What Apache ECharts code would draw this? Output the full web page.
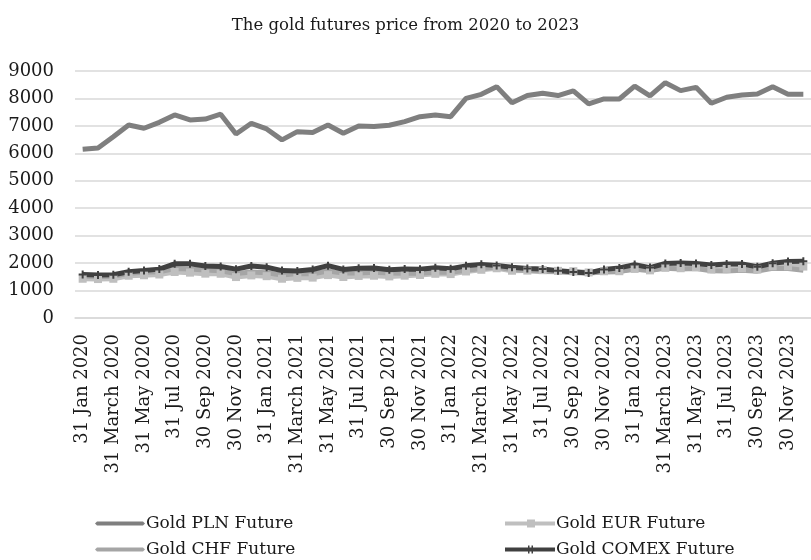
<!DOCTYPE html>
<html>
<head>
<meta charset="utf-8">
<script src="https://cdn.jsdelivr.net/npm/echarts@6/dist/echarts.min.js"></script>
<style>html,body{margin:0;padding:0;background:#fff}#c{width:811px;height:560px}</style>
</head>
<body>
<div id="c"></div>
<script>
const categories = [
  "31 Jan 2020","29 Feb 2020","31 March 2020","30 Apr 2020","31 May 2020","30 Jun 2020","31 Jul 2020","31 Aug 2020","30 Sep 2020","31 Oct 2020","30 Nov 2020","31 Dec 2020",
  "31 Jan 2021","28 Feb 2021","31 March 2021","30 Apr 2021","31 May 2021","30 Jun 2021","31 Jul 2021","31 Aug 2021","30 Sep 2021","31 Oct 2021","30 Nov 2021","31 Dec 2021",
  "31 Jan 2022","28 Feb 2022","31 March 2022","30 Apr 2022","31 May 2022","30 Jun 2022","31 Jul 2022","31 Aug 2022","30 Sep 2022","31 Oct 2022","30 Nov 2022","31 Dec 2022",
  "31 Jan 2023","28 Feb 2023","31 March 2023","30 Apr 2023","31 May 2023","30 Jun 2023","31 Jul 2023","31 Aug 2023","30 Sep 2023","31 Oct 2023","30 Nov 2023","31 Dec 2023"
];
const goldPLN = [6150,6195,6605,7030,6915,7130,7400,7215,7250,7425,6705,7095,
  6890,6490,6790,6755,7030,6730,6995,6975,7025,7155,7335,7400,
  7335,8005,8150,8430,7845,8105,8190,8105,8275,7800,7980,7980,
  8450,8090,8575,8285,8405,7825,8045,8125,8165,8430,8150,8150];
const goldEUR = [1430,1419,1429,1540,1557,1585,1677,1653,1616,1612,1492,1552,
  1524,1431,1463,1471,1563,1493,1532,1540,1516,1542,1566,1610,
  1600,1695,1757,1812,1722,1727,1743,1717,1705,1660,1703,1705,
  1787,1735,1827,1814,1853,1767,1791,1813,1763,1885,1886,1874];
const goldCHF = [1527,1511,1517,1628,1663,1687,1803,1784,1745,1723,1618,1677,
  1648,1567,1619,1614,1713,1638,1644,1663,1638,1631,1632,1668,
  1667,1742,1804,1859,1770,1726,1695,1688,1650,1640,1673,1689,
  1780,1728,1817,1788,1806,1725,1716,1736,1707,1813,1800,1742];
const goldCOMEX = [1587,1566,1577,1687,1730,1781,1975,1973,1895,1879,1780,1895,
  1850,1728,1715,1768,1906,1771,1817,1818,1757,1783,1774,1829,
  1796,1900,1954,1911,1848,1807,1782,1726,1672,1640,1768,1826,
  1945,1836,1986,2000,1982,1929,1970,1966,1866,1995,2057,2071];
const seriesNames = ["Gold PLN Future","Gold EUR Future","Gold CHF Future","Gold COMEX Future"];

const FONT = "DejaVu Serif";
const TXT = '#1a1a1a';
const colors = ['#7f7f7f','#bfbfbf','#a5a5a5','#404040'];
const crossPath = 'path://M3,0L5,0L5,3L8,3L8,5L5,5L5,8L3,8L3,5L0,5L0,3L3,3Z';
const iconBar = 'path://M2,0L48,0L50,2L48,4L2,4L0,2Z';
const iconEUR = 'path://M0,2L22,2L22,0L30,0L30,2L50,2L50,6L30,6L30,8L22,8L22,6L0,6Z';
const iconCOMEX = 'path://M0,2L23,2L23,0L24.5,0L24.5,2L26.5,2L26.5,0L28,0L28,2L50,2L50,6L28,6L28,8L26.5,8L26.5,6L24.5,6L24.5,8L23,8L23,6L0,6Z';

function legendItem(idx, icon, h, left, cy) {
  return {data:[seriesNames[idx]], left:left, top:cy - 11, icon:icon, itemWidth:50, itemHeight:h,
    itemGap:0, padding:[1,0,1,0], itemStyle:{color:colors[idx], borderWidth:0},
    textStyle:{fontFamily:FONT, fontSize:17, color:TXT, padding:[0,0,0,-4]}, selectedMode:false};
}

const chart = echarts.init(document.getElementById('c'), null, {renderer:'canvas'});
chart.setOption({
  animation:false,
  backgroundColor:'#ffffff',
  title:{text:'The gold futures price from 2020 to 2023',left:'center',top:12,
    textStyle:{fontFamily:FONT,fontSize:16.5,fontWeight:'normal',color:TXT}},
  grid:{left:75,top:71,width:744,bottom:242,containLabel:false},
  legend:[
    legendItem(0, iconBar, 4, 95, 525),
    legendItem(2, iconBar, 4, 95, 551),
    legendItem(1, iconEUR, 8, 505, 525),
    legendItem(3, iconCOMEX, 8, 505, 551)
  ],
  xAxis:{type:'category',data:categories,boundaryGap:true,
    axisLine:{show:true,lineStyle:{color:'#d9d9d9',width:1.5}},
    axisTick:{show:false},
    axisLabel:{interval:1,rotate:90,margin:16,fontFamily:FONT,fontSize:18,color:TXT}},
  yAxis:{type:'value',min:0,max:9000,interval:1000,
    axisLine:{show:false},axisTick:{show:false},
    splitLine:{lineStyle:{color:'#d9d9d9',width:1.5}},
    axisLabel:{margin:21,fontFamily:FONT,fontSize:18,color:TXT,formatter:function(v){return String(v);}}},
  series:[
    {name:seriesNames[0],type:'line',data:goldPLN,symbol:'none',color:colors[0],
     lineStyle:{width:5,color:colors[0]}},
    {name:seriesNames[1],type:'line',data:goldEUR,symbol:'rect',symbolSize:8,color:colors[1],
     itemStyle:{color:colors[1]},lineStyle:{width:5,color:colors[1]}},
    {name:seriesNames[2],type:'line',data:goldCHF,symbol:'none',color:colors[2],
     lineStyle:{width:5,color:colors[2]}},
    {name:seriesNames[3],type:'line',data:goldCOMEX,symbol:crossPath,symbolSize:8,color:colors[3],
     itemStyle:{color:colors[3]},lineStyle:{width:5,color:colors[3]}}
  ]
});
</script>
</body>
</html>
